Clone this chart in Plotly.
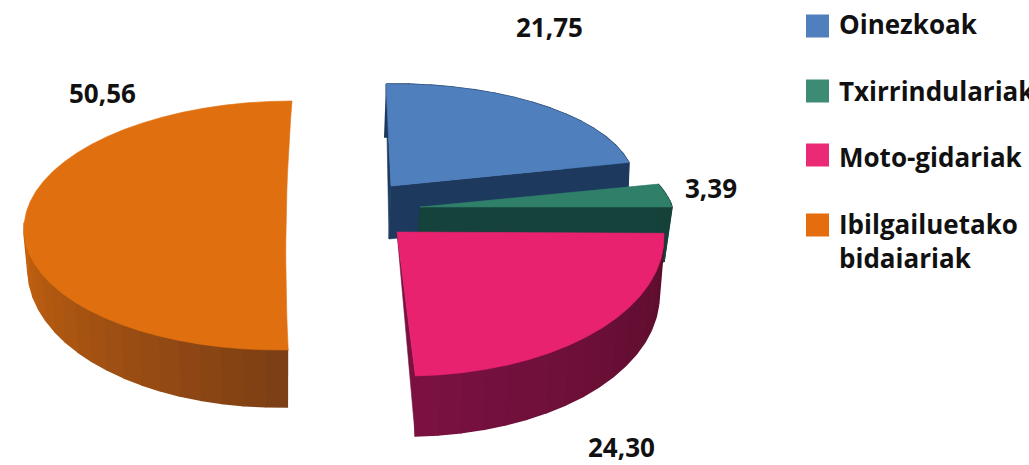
import numpy as np
import plotly.graph_objects as go

categories = ["Oinezkoak", "Txirrindulariak", "Moto-gidariak", "Ibilgailuetako<br>bidaiariak"]
values = [21.75, 3.39, 24.30, 50.56]
top_colors = ["#4f7fbd", "#2f7f69", "#e8226f", "#e0700f"]
swatch_colors = ["#4f7fbd", "#3d8b75", "#ea2a75", "#e56d0d"]
side_left = ["#1d3a5e", "#15423a", "#7a1140", "#c9640f"]
side_right = ["#1d3a5e", "#15423a", "#5c0d2e", "#7f4015"]

# pixel-space projection of each exploded slice: centre, up/down/right vectors, depth
geom = [
    dict(c=(391, 186), up=(-5, -102), dn=(5, 102), r=(244, -3), d=(-2, 53), dr=244, dd=(5, 102)),
    dict(c=(420, 207), up=(-43, -108), dn=(0, 108), r=(252, -1), d=(-4, 55), dr=248, dd=(0, 108)),
    dict(c=(397, 232), up=(0, -144), dn=(9, 144), r=(267, 0), d=(0, 58), dr=262, dd=(9, 146)),
    dict(c=(286, 226), up=(6, -125), dn=(-7, 124), r=(262, 0), d=(0, 39), dr=258, dd=(-7, 142)),
]
label_pos = [(549, 27), (711, 188), (621, 447), (102, 93)]
swatch_y = [26, 91, 155, 225]
text_y = [24, 91, 157, 241]


def arc(g, th, depth=False):
    rx, ry = g["r"]
    dn = g["dn"]
    if depth:
        rx = g["dr"]
        dn = g["dd"]
    s, c = np.sin(th), np.cos(th)
    ux = np.where(c >= 0, g["up"][0], -dn[0])
    uy = np.where(c >= 0, g["up"][1], -dn[1])
    x = g["c"][0] + s * rx + c * ux
    y = g["c"][1] + s * ry + c * uy
    if depth:
        x = x + g["d"][0]
        y = y + g["d"][1]
    return x, y


def mix(a, b, t):
    pa = [int(a[i:i + 2], 16) for i in (1, 3, 5)]
    pb = [int(b[i:i + 2], 16) for i in (1, 3, 5)]
    return "rgb(%d,%d,%d)" % tuple(round(p + (q - p) * t) for p, q in zip(pa, pb))


def poly(fig, xs, ys, color, w=0.6):
    fig.add_trace(go.Scatter(x=list(xs), y=list(ys), mode="lines", fill="toself",
                             fillcolor=color, line=dict(color=color, width=w),
                             hoverinfo="skip", showlegend=False))


edges = np.concatenate([[0], np.cumsum(values)]) / sum(values) * 2 * np.pi
fig = go.Figure()

for i in [3, 0, 1, 2]:
    g = geom[i]
    a0, a1 = edges[i], edges[i + 1]
    th = np.linspace(a0, a1, int(max(8, (a1 - a0) * 12)))
    cx, cy = g["c"]
    tx, ty = arc(g, th)
    bx, by = arc(g, th, depth=True)
    if i == 0:
        poly(fig, [cx, tx[-1], bx[-1], cx + g["d"][0], cx],
             [cy, ty[-1], by[-1], cy + g["d"][1], cy], side_left[i])
        poly(fig, [tx[0], cx, cx + g["d"][0], tx[0]], [ty[0], cy, cy + g["d"][1], ty[0]], side_left[i])
    if i == 1:
        poly(fig, [cx, tx[-1], bx[-1], cx + g["d"][0], cx], [cy, ty[-1], by[-1], cy + g["d"][1], cy], side_left[i])
        poly(fig, [tx[0], tx[-1], bx[-1], bx[0]], [ty[0], ty[-1], by[-1], by[0]], side_left[i])
    if i == 2:
        poly(fig, [cx, tx[-1], bx[-1], cx], [cy, ty[-1], by[-1], cy], side_left[i])
    n = len(th) - 1
    for k in range(n):
        t = k / max(n - 1, 1)
        if i == 2:
            t = 1 - t
        if i == 3:
            if th[k] > np.pi * 1.5:
                continue
            t = abs(th[k] - np.pi * 1.5) / (np.pi * 0.5)
        poly(fig, [tx[k], tx[k + 1], bx[k + 1], bx[k]], [ty[k], ty[k + 1], by[k + 1], by[k]],
             mix(side_left[i], side_right[i], t), w=1.6)
    if i == 3:
        # the flat cut of the large slice bows gently inward
        u = np.linspace(0, 1, 15)
        ex = (1 - u) ** 2 * tx[-1] + 2 * u * (1 - u) * (2 * cx - 0.5 * (tx[-1] + tx[0])) + u ** 2 * tx[0]
        ey = (1 - u) * ty[-1] + u * ty[0]
        poly(fig, [*tx, *ex], [*ty, *ey], top_colors[i])
    else:
        poly(fig, [cx, *tx, cx], [cy, *ty, cy], top_colors[i])

fig.add_trace(go.Scatter(x=[817.5] * 4, y=swatch_y, mode="markers",
                         marker=dict(symbol="square", size=23, color=swatch_colors, line=dict(width=0)),
                         hoverinfo="skip", showlegend=False))

annotations = []
for v, (x, y) in zip(values, label_pos):
    annotations.append(dict(x=x, y=y, text="<b>%s</b>" % f"{v:.2f}".replace(".", ","), showarrow=False,
                            xanchor="center", yanchor="middle", font=dict(size=26, color="#111111")))
for name, y in zip(categories, text_y):
    annotations.append(dict(x=837, y=y, text="<b>%s</b>" % name, showarrow=False, align="left",
                            xanchor="left", yanchor="middle", font=dict(size=26, color="#111111")))

fig.update_layout(
    width=1029, height=465, margin=dict(l=0, r=0, t=0, b=0),
    paper_bgcolor="white", plot_bgcolor="white", showlegend=False,
    font=dict(family="Open Sans, sans-serif"),
    xaxis=dict(range=[0, 1029], visible=False, fixedrange=True),
    yaxis=dict(range=[465, 0], visible=False, fixedrange=True),
    annotations=annotations,
)
fig.write_html("out.html", config={"displayModeBar": False},
               post_script="document.body.style.margin='0';document.body.style.overflow='hidden';")
